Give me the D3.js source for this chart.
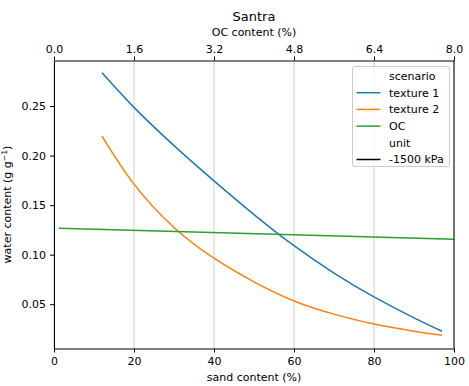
<!DOCTYPE html>
<html>
<head>
<meta charset="utf-8">
<script src="https://cdn.jsdelivr.net/npm/d3@7"></script>
<style>
  html, body { margin: 0; padding: 0; background: #fff; }
  svg { display: block; font-family: "DejaVu Sans", sans-serif; }
</style>
</head>
<body>
<svg id="chart" width="469" height="386"></svg>
<script>
// Water content at -1500 kPa as a function of sand content (two texture scenarios)
// and of organic carbon content (OC scenario).
const sandTicks = [0, 20, 40, 60, 80, 100];
const ocTicks = [0.0, 1.6, 3.2, 4.8, 6.4, 8.0];
const waterTicks = [0.05, 0.10, 0.15, 0.20, 0.25];

const texture1Sand  = [12, 20, 30, 40, 50, 60, 70, 80, 90, 97];
const texture1Water = [0.2836, 0.2487, 0.2101, 0.1745, 0.1405, 0.1091, 0.0815, 0.0574, 0.0362, 0.0227];

const texture2Sand  = [12, 20, 30, 40, 50, 60, 70, 80, 90, 97];
const texture2Water = [0.2197, 0.1712, 0.1275, 0.0964, 0.0725, 0.0533, 0.0400, 0.0300, 0.0228, 0.0187];

const ocContent = [0.1, 8.0];
const ocWater   = [0.1268, 0.1156];

const legendItems = [
  { label: "scenario", color: null },
  { label: "texture 1", color: "#1f77b4" },
  { label: "texture 2", color: "#ff7f0e" },
  { label: "OC", color: "#2ca02c" },
  { label: "unit", color: null },
  { label: "-1500 kPa", color: "#000000" }
];

const svg = d3.select("#chart");
const margin = { left: 54, right: 15, top: 60.5, bottom: 37.5 };
const W = 469, H = 386;
const x0 = margin.left, x1 = W - margin.right;
const y0 = H - margin.bottom, y1 = margin.top;

const xSand = d3.scaleLinear().domain([0, 100]).range([x0, x1]);
const xOC = d3.scaleLinear().domain([0, 8]).range([x0, x1]);
const y = d3.scaleLinear().domain([0.00530, 0.2960]).range([y0, y1]);

const fontSize = 11;

// vertical grid from the OC axis
svg.append("g")
  .selectAll("line")
  .data(ocTicks)
  .join("line")
  .attr("x1", d => xOC(d)).attr("x2", d => xOC(d))
  .attr("y1", y0).attr("y2", y1)
  .attr("stroke", "#cfcfcf")
  .attr("stroke-width", 1);

// series
const line = d3.line().curve(d3.curveNatural);
const plot = svg.append("g");
plot.append("path")
  .attr("d", line(texture1Sand.map((s, i) => [xSand(s), y(texture1Water[i])])))
  .attr("fill", "none").attr("stroke", "#1f77b4").attr("stroke-width", 1.5);
plot.append("path")
  .attr("d", line(texture2Sand.map((s, i) => [xSand(s), y(texture2Water[i])])))
  .attr("fill", "none").attr("stroke", "#ff7f0e").attr("stroke-width", 1.5);
plot.append("path")
  .attr("d", d3.line()(ocContent.map((c, i) => [xOC(c), y(ocWater[i])])))
  .attr("fill", "none").attr("stroke", "#2ca02c").attr("stroke-width", 1.5);

// axes
function styleAxis(g) {
  g.selectAll(".domain").attr("stroke", "#000").attr("stroke-width", 1);
  g.selectAll(".tick line").attr("stroke", "#000").attr("stroke-width", 1);
  g.selectAll(".tick text").attr("fill", "#000")
    .style("font-size", fontSize + "px")
    .style("font-family", "DejaVu Sans, sans-serif");
}

svg.append("g")
  .attr("transform", `translate(0,${y0})`)
  .call(d3.axisBottom(xSand).tickValues(sandTicks).tickSize(4).tickPadding(4.5).tickSizeOuter(0).tickFormat(d3.format("d")))
  .call(styleAxis);

svg.append("g")
  .attr("transform", `translate(0,${y1})`)
  .call(d3.axisTop(xOC).tickValues(ocTicks).tickSize(4).tickPadding(4).tickSizeOuter(0).tickFormat(d3.format(".1f")))
  .call(styleAxis);

svg.append("g")
  .attr("transform", `translate(${x0},0)`)
  .call(d3.axisLeft(y).tickValues(waterTicks).tickSize(4).tickPadding(4).tickSizeOuter(0).tickFormat(d3.format(".2f")))
  .call(styleAxis);

svg.append("line")
  .attr("x1", x1).attr("x2", x1).attr("y1", y0).attr("y2", y1)
  .attr("stroke", "#000").attr("stroke-width", 1);

// labels
svg.append("text")
  .attr("x", (x0 + x1) / 2).attr("y", 380.5)
  .attr("text-anchor", "middle")
  .style("font-size", fontSize + "px")
  .text("sand content (%)");

svg.append("text")
  .attr("x", (x0 + x1) / 2).attr("y", 36)
  .attr("text-anchor", "middle")
  .style("font-size", fontSize + "px")
  .text("OC content (%)");

svg.append("text")
  .attr("x", (x0 + x1) / 2).attr("y", 21)
  .attr("text-anchor", "middle")
  .style("font-size", "13px")
  .text("Santra");

const yl = svg.append("text")
  .attr("transform", `translate(11,${(y0 + y1) / 2}) rotate(-90)`)
  .attr("text-anchor", "middle")
  .style("font-size", fontSize + "px");
yl.append("tspan").text("water content (g g");
yl.append("tspan").attr("dy", -4).style("font-size", "7.7px").text("−1");
yl.append("tspan").attr("dy", 4).text(")");

// legend
const lg = svg.append("g").attr("transform", "translate(352.5,66.5)");
lg.append("rect")
  .attr("width", 97).attr("height", 100)
  .attr("rx", 2.5)
  .attr("fill", "#fff").attr("fill-opacity", 0.8)
  .attr("stroke", "#cccccc").attr("stroke-width", 1);
const rows = lg.selectAll("g.row")
  .data(legendItems)
  .join("g")
  .attr("class", "row")
  .attr("transform", (d, i) => `translate(0,${9.5 + i * 16.7})`);
rows.filter(d => d.color)
  .append("line")
  .attr("x1", 4).attr("x2", 28)
  .attr("stroke", d => d.color).attr("stroke-width", 1.5);
rows.append("text")
  .attr("x", 36.5).attr("dy", "0.35em")
  .style("font-size", fontSize + "px")
  .text(d => d.label);
</script>
</body>
</html>
